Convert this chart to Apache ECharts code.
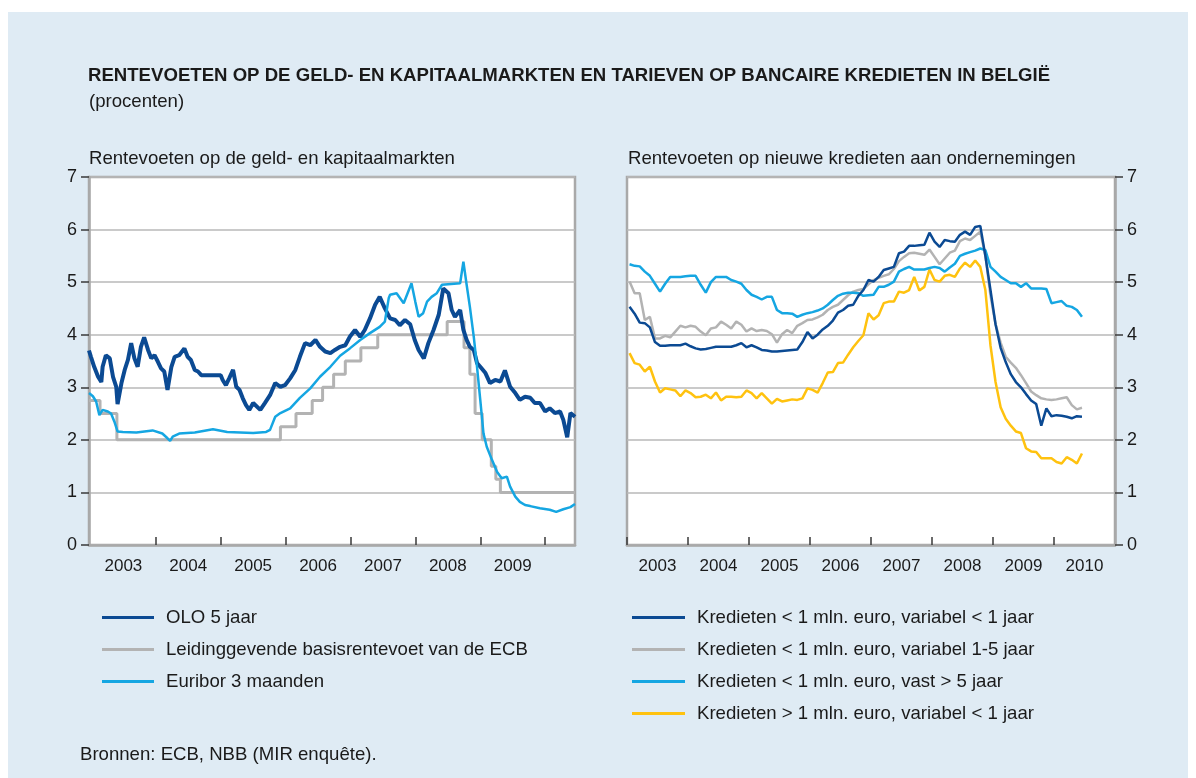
<!DOCTYPE html>
<html>
<head>
<meta charset="utf-8">
<script src="https://cdn.jsdelivr.net/npm/echarts@6/dist/echarts.min.js"></script>
<style>
  html, body { margin: 0; padding: 0; background: #fff; }
  #bg { position: absolute; left: 8px; top: 12px; width: 1180px; height: 766px; background: #dfebf4; }
  #chart { position: absolute; left: 0; top: 0; width: 1196px; height: 778px; }
</style>
</head>
<body>
<div id="bg"></div>
<div id="chart"></div>
<script>
// Linker paneel: geld- en kapitaalmarkten (tijd in decimale jaren)
const oloT = [2002.97, 2003.0, 2003.05, 2003.11, 2003.16, 2003.18, 2003.23, 2003.29, 2003.34, 2003.39, 2003.41, 2003.47, 2003.52, 2003.57, 2003.62, 2003.67, 2003.72, 2003.77, 2003.82, 2003.88, 2003.93, 2003.98,
  2004.03, 2004.08, 2004.13, 2004.18, 2004.24, 2004.29, 2004.36, 2004.44, 2004.49, 2004.54, 2004.60, 2004.65, 2004.70, 2005.00,
  2005.03, 2005.08, 2005.13, 2005.19, 2005.24, 2005.29, 2005.34, 2005.39, 2005.44, 2005.50, 2005.53, 2005.61, 2005.68, 2005.76, 2005.84, 2005.92, 2005.99,
  2006.07, 2006.15, 2006.22, 2006.30, 2006.38, 2006.46, 2006.53, 2006.61, 2006.69, 2006.76, 2006.84, 2006.92, 2006.99,
  2007.07, 2007.15, 2007.22, 2007.30, 2007.38, 2007.45, 2007.53, 2007.61, 2007.69, 2007.76, 2007.84, 2007.92, 2007.99,
  2008.05, 2008.13, 2008.20, 2008.28, 2008.36, 2008.43, 2008.51, 2008.56, 2008.61, 2008.69, 2008.74, 2008.79, 2008.84, 2008.90, 2008.95,
  2009.00, 2009.08, 2009.15, 2009.23, 2009.31, 2009.38, 2009.46, 2009.54, 2009.61, 2009.69, 2009.77, 2009.84, 2009.92,
  2010.00, 2010.07, 2010.15, 2010.23, 2010.28, 2010.34, 2010.39, 2010.46];
const oloV = [3.70, 3.58, 3.39, 3.20, 3.10, 3.39, 3.61, 3.55, 3.20, 3.01, 2.68, 3.08, 3.33, 3.52, 3.84, 3.55, 3.39, 3.77, 3.95, 3.71, 3.55, 3.61,
  3.49, 3.36, 3.30, 2.95, 3.39, 3.58, 3.61, 3.74, 3.58, 3.52, 3.33, 3.30, 3.23, 3.23,
  3.14, 3.04, 3.17, 3.33, 3.01, 2.95, 2.79, 2.66, 2.57, 2.70, 2.68, 2.57, 2.70, 2.85, 3.08, 3.01, 3.04,
  3.17, 3.33, 3.58, 3.84, 3.80, 3.90, 3.77, 3.68, 3.65, 3.71, 3.77, 3.80, 3.96,
  4.09, 3.96, 4.09, 4.31, 4.57, 4.72, 4.50, 4.31, 4.28, 4.18, 4.28, 4.20, 3.90,
  3.71, 3.55, 3.84, 4.09, 4.38, 4.88, 4.79, 4.47, 4.34, 4.47, 4.09, 3.90, 3.77, 3.71, 3.46,
  3.39, 3.27, 3.08, 3.14, 3.11, 3.32, 3.01, 2.89, 2.76, 2.82, 2.80, 2.70, 2.70,
  2.54, 2.60, 2.51, 2.54, 2.38, 2.05, 2.51, 2.44];

const ecbT = [2002.97, 2003.14, 2003.40, 2005.92, 2006.16, 2006.41, 2006.57, 2006.74, 2006.92, 2007.16, 2007.42,
  2008.49, 2008.75, 2008.84, 2008.92, 2009.03, 2009.17, 2009.24, 2009.31, 2010.46];
const ecbV = [2.75, 2.50, 2.00, 2.25, 2.50, 2.75, 3.00, 3.25, 3.50, 3.75, 4.00,
  4.25, 3.75, 3.25, 2.50, 2.00, 1.50, 1.25, 1.00, 1.00];

const euriborT = [2002.97, 2003.03, 2003.08, 2003.13, 2003.18, 2003.26, 2003.31, 2003.36, 2003.41, 2003.49, 2003.70, 2003.95,
  2004.10, 2004.18, 2004.22, 2004.26, 2004.36, 2004.60, 2004.88, 2005.10, 2005.50, 2005.70, 2005.76, 2005.84, 2005.92,
  2006.07, 2006.22, 2006.38, 2006.53, 2006.69, 2006.84, 2006.99, 2007.15, 2007.30, 2007.45, 2007.53, 2007.59, 2007.61,
  2007.71, 2007.82, 2007.94, 2008.00, 2008.05, 2008.12, 2008.18, 2008.25, 2008.33, 2008.41, 2008.69, 2008.74, 2008.79,
  2008.84, 2008.90, 2008.95, 2009.00, 2009.05, 2009.10, 2009.18, 2009.26, 2009.33, 2009.41, 2009.46, 2009.54, 2009.61,
  2009.69, 2009.77, 2009.92, 2010.07, 2010.17, 2010.28, 2010.39, 2010.46];
const euriborV = [2.89, 2.83, 2.73, 2.47, 2.57, 2.54, 2.50, 2.35, 2.16, 2.15, 2.14, 2.18,
  2.12, 2.03, 1.98, 2.06, 2.12, 2.14, 2.20, 2.15, 2.13, 2.15, 2.19, 2.44, 2.51,
  2.60, 2.80, 2.98, 3.20, 3.39, 3.60, 3.74, 3.90, 4.03, 4.15, 4.25, 4.70, 4.76,
  4.79, 4.60, 4.98, 4.62, 4.34, 4.41, 4.63, 4.72, 4.79, 4.95, 4.98, 5.39, 4.95,
  4.53, 3.96, 3.39, 2.76, 2.12, 1.87, 1.62, 1.39, 1.27, 1.30, 1.11, 0.92, 0.82,
  0.76, 0.74, 0.70, 0.67, 0.63, 0.68, 0.72, 0.78];

// Rechter paneel: maandcijfers januari 2003 - juni 2010
const startYear = 2003;
const krVarKort = [4.53, 4.40, 4.23, 4.22, 4.14, 3.86, 3.79, 3.79, 3.80, 3.80,
  3.80, 3.83, 3.78, 3.74, 3.72, 3.73, 3.75, 3.77, 3.77, 3.77,
  3.77, 3.80, 3.84, 3.76, 3.80, 3.76, 3.71, 3.70, 3.68, 3.68,
  3.69, 3.70, 3.71, 3.72, 3.86, 4.05, 3.93, 4.00, 4.10, 4.17,
  4.27, 4.42, 4.47, 4.55, 4.57, 4.74, 4.85, 5.04, 5.01, 5.10,
  5.23, 5.26, 5.29, 5.55, 5.58, 5.69, 5.69, 5.70, 5.71, 5.94,
  5.77, 5.67, 5.80, 5.78, 5.77, 5.90, 5.96, 5.90, 6.05, 6.07,
  5.50, 4.85, 4.20, 3.75, 3.48, 3.25, 3.10, 3.00, 2.87, 2.75,
  2.68, 2.27, 2.60, 2.45, 2.47, 2.46, 2.44, 2.41, 2.45, 2.44];
const krVarMid = [5.01, 4.79, 4.79, 4.28, 4.34, 3.93, 3.93, 3.98, 3.95, 4.06,
  4.17, 4.14, 4.17, 4.15, 4.06, 3.99, 4.12, 4.14, 4.25, 4.19,
  4.12, 4.25, 4.19, 4.06, 4.12, 4.07, 4.09, 4.07, 4.01, 3.85,
  4.01, 4.09, 4.03, 4.17, 4.22, 4.28, 4.29, 4.33, 4.38, 4.47,
  4.53, 4.57, 4.66, 4.75, 4.82, 4.85, 4.87, 4.96, 5.04, 5.08,
  5.12, 5.15, 5.25, 5.40, 5.48, 5.55, 5.56, 5.54, 5.52, 5.62,
  5.48, 5.34, 5.45, 5.56, 5.60, 5.78, 5.83, 5.80, 5.88, 5.96,
  5.50, 4.75, 4.20, 3.85, 3.58, 3.47, 3.37, 3.23, 3.08, 2.92,
  2.85, 2.79, 2.77, 2.76, 2.77, 2.79, 2.81, 2.66, 2.58, 2.61];
const krVast = [5.34, 5.31, 5.30, 5.20, 5.12, 4.97, 4.82, 4.97, 5.10, 5.10,
  5.10, 5.11, 5.12, 5.12, 4.95, 4.80, 5.00, 5.10, 5.10, 5.10,
  5.04, 5.01, 4.97, 4.85, 4.76, 4.72, 4.67, 4.72, 4.72, 4.47,
  4.41, 4.41, 4.40, 4.34, 4.38, 4.41, 4.43, 4.46, 4.50, 4.57,
  4.66, 4.74, 4.78, 4.80, 4.80, 4.79, 4.74, 4.75, 4.76, 4.91,
  4.91, 4.95, 5.01, 5.20, 5.25, 5.29, 5.24, 5.24, 5.24, 5.27,
  5.29, 5.27, 5.20, 5.28, 5.35, 5.50, 5.54, 5.57, 5.60, 5.64,
  5.61, 5.29, 5.20, 5.10, 5.04, 4.98, 4.98, 4.91, 4.98, 4.88,
  4.88, 4.88, 4.87, 4.60, 4.62, 4.64, 4.55, 4.53, 4.47, 4.34];
const krGroot = [3.65, 3.46, 3.43, 3.30, 3.39, 3.11, 2.90, 2.98, 2.96, 2.94,
  2.83, 2.94, 2.89, 2.81, 2.82, 2.86, 2.79, 2.90, 2.75, 2.82,
  2.82, 2.81, 2.82, 2.94, 2.89, 2.79, 2.89, 2.79, 2.69, 2.78,
  2.73, 2.75, 2.77, 2.76, 2.79, 2.98, 2.95, 2.90, 3.08, 3.28,
  3.29, 3.46, 3.47, 3.62, 3.76, 3.88, 3.99, 4.41, 4.29, 4.37,
  4.60, 4.63, 4.63, 4.82, 4.80, 4.85, 5.10, 4.84, 4.91, 5.24,
  5.04, 5.01, 5.12, 5.14, 5.10, 5.26, 5.37, 5.29, 5.41, 5.29,
  4.85, 3.80, 3.10, 2.62, 2.40, 2.27, 2.16, 2.13, 1.84, 1.78,
  1.77, 1.65, 1.65, 1.65, 1.58, 1.55, 1.67, 1.62, 1.55, 1.74];

const yearsLeft = [2003, 2004, 2005, 2006, 2007, 2008, 2009];
const yearsRight = [2003, 2004, 2005, 2006, 2007, 2008, 2009, 2010];

const FONT = '"Liberation Sans", Arial, sans-serif';
const FS = 18.6;
const TXT = '#1a1a1a';
const C_DARK = '#0b4a93';
const C_GREY = '#b3b3b3';
const C_LIGHT = '#15a6e2';
const C_YELLOW = '#ffc20f';

const zip = (t, v) => t.map((x, i) => [x, v[i]]);
const monthly = v => v.map((y, i) => [startYear + (i + 0.5) / 12, y]);

const chart = echarts.init(document.getElementById('chart'));

function xAxisFor(gridIndex, min, max, years) {
  // links: streepjes op de jaargrenzen 2004..2010, rechts: 2003..2010
  const ticks = gridIndex === 1 ? years : years.slice(1).concat([years[years.length - 1] + 1]);
  return {
    type: 'value', gridIndex, min, max,
    axisLine: { show: true, lineStyle: { color: '#a9a9a9', width: 2.5 } },
    axisTick: {
      show: true, inside: true, length: 8,
      customValues: ticks,
      lineStyle: { color: '#3a3a3a', width: 1.5 }
    },
    axisLabel: {
      customValues: years.map(y => y + 0.5),
      formatter: v => String(Math.floor(v)),
      fontSize: 17, fontFamily: FONT, color: TXT, margin: 13
    },
    splitLine: { show: false }
  };
}

function yAxisFor(gridIndex, position) {
  return {
    type: 'value', gridIndex, position, min: 0, max: 7, interval: 1,
    axisLine: { show: true, lineStyle: { color: '#a9a9a9', width: 2.5 } },
    axisTick: { show: true, inside: false, length: 8, lineStyle: { color: '#3a3a3a', width: 1.5 } },
    axisLabel: { fontSize: 18, fontFamily: FONT, color: TXT, margin: 12 },
    splitLine: { show: true, lineStyle: { color: '#b9b9b9', width: 1.5 } }
  };
}

const lineBase = { type: 'line', showSymbol: false, symbol: 'none', animation: false };

const option = {
  backgroundColor: 'transparent',
  animation: false,
  textStyle: { fontFamily: FONT },
  graphic: [
    { type: 'text', left: 88, top: 66, style: { text: 'RENTEVOETEN OP DE GELD- EN KAPITAALMARKTEN EN TARIEVEN OP BANCAIRE KREDIETEN IN BELGIË', font: 'bold ' + FS + 'px ' + FONT, fill: TXT } },
    { type: 'text', left: 89, top: 92, style: { text: '(procenten)', font: FS + 'px ' + FONT, fill: TXT } },
    { type: 'text', left: 89, top: 149, style: { text: 'Rentevoeten op de geld- en kapitaalmarkten', font: FS + 'px ' + FONT, fill: TXT } },
    { type: 'text', left: 628, top: 149, style: { text: 'Rentevoeten op nieuwe kredieten aan ondernemingen', font: FS + 'px ' + FONT, fill: TXT } },
    { type: 'text', left: 80, top: 745, style: { text: 'Bronnen: ECB, NBB (MIR enquête).', font: FS + 'px ' + FONT, fill: TXT } }
  ],
  grid: [
    { left: 89, top: 177, width: 486, height: 368, show: true, backgroundColor: '#fff', borderColor: '#a9a9a9', borderWidth: 2.5 },
    { left: 627, top: 177, width: 488, height: 368, show: true, backgroundColor: '#fff', borderColor: '#a9a9a9', borderWidth: 2.5 }
  ],
  xAxis: [
    xAxisFor(0, 2002.97, 2010.46, yearsLeft),
    xAxisFor(1, 2003, 2011, yearsRight)
  ],
  yAxis: [
    yAxisFor(0, 'left'),
    yAxisFor(1, 'right')
  ],
  legend: [
    {
      data: ['OLO 5 jaar', 'Leidinggevende basisrentevoet van de ECB', 'Euribor 3 maanden'],
      orient: 'vertical', left: 97, top: 603, icon: 'rect', itemWidth: 52, itemHeight: 3, itemGap: 13,
      textStyle: { fontSize: FS, fontFamily: FONT, color: TXT, lineHeight: 18, padding: [0, 0, 0, 7] }
    },
    {
      data: ['Kredieten < 1 mln. euro, variabel < 1 jaar', 'Kredieten < 1 mln. euro, variabel 1-5 jaar',
        'Kredieten < 1 mln. euro, vast > 5 jaar', 'Kredieten > 1 mln. euro, variabel < 1 jaar'],
      orient: 'vertical', left: 627, top: 603, icon: 'rect', itemWidth: 53, itemHeight: 3, itemGap: 13,
      textStyle: { fontSize: FS, fontFamily: FONT, color: TXT, lineHeight: 18, padding: [0, 0, 0, 7] }
    }
  ],
  series: [
    Object.assign({}, lineBase, { name: 'Leidinggevende basisrentevoet van de ECB', xAxisIndex: 0, yAxisIndex: 0, step: 'end', color: C_GREY, lineStyle: { width: 3, color: C_GREY }, data: zip(ecbT, ecbV) }),
    Object.assign({}, lineBase, { name: 'OLO 5 jaar', xAxisIndex: 0, yAxisIndex: 0, color: C_DARK, lineStyle: { width: 4, color: C_DARK }, data: zip(oloT, oloV) }),
    Object.assign({}, lineBase, { name: 'Euribor 3 maanden', xAxisIndex: 0, yAxisIndex: 0, color: C_LIGHT, lineStyle: { width: 2.5, color: C_LIGHT }, data: zip(euriborT, euriborV) }),
    Object.assign({}, lineBase, { name: 'Kredieten < 1 mln. euro, variabel 1-5 jaar', xAxisIndex: 1, yAxisIndex: 1, color: C_GREY, lineStyle: { width: 2.5, color: C_GREY }, data: monthly(krVarMid) }),
    Object.assign({}, lineBase, { name: 'Kredieten > 1 mln. euro, variabel < 1 jaar', xAxisIndex: 1, yAxisIndex: 1, color: C_YELLOW, lineStyle: { width: 2.5, color: C_YELLOW }, data: monthly(krGroot) }),
    Object.assign({}, lineBase, { name: 'Kredieten < 1 mln. euro, vast > 5 jaar', xAxisIndex: 1, yAxisIndex: 1, color: C_LIGHT, lineStyle: { width: 2.5, color: C_LIGHT }, data: monthly(krVast) }),
    Object.assign({}, lineBase, { name: 'Kredieten < 1 mln. euro, variabel < 1 jaar', xAxisIndex: 1, yAxisIndex: 1, color: C_DARK, lineStyle: { width: 2.5, color: C_DARK }, data: monthly(krVarKort) })
  ]
};

chart.setOption(option);
window.addEventListener('resize', () => chart.resize());
</script>
</body>
</html>
